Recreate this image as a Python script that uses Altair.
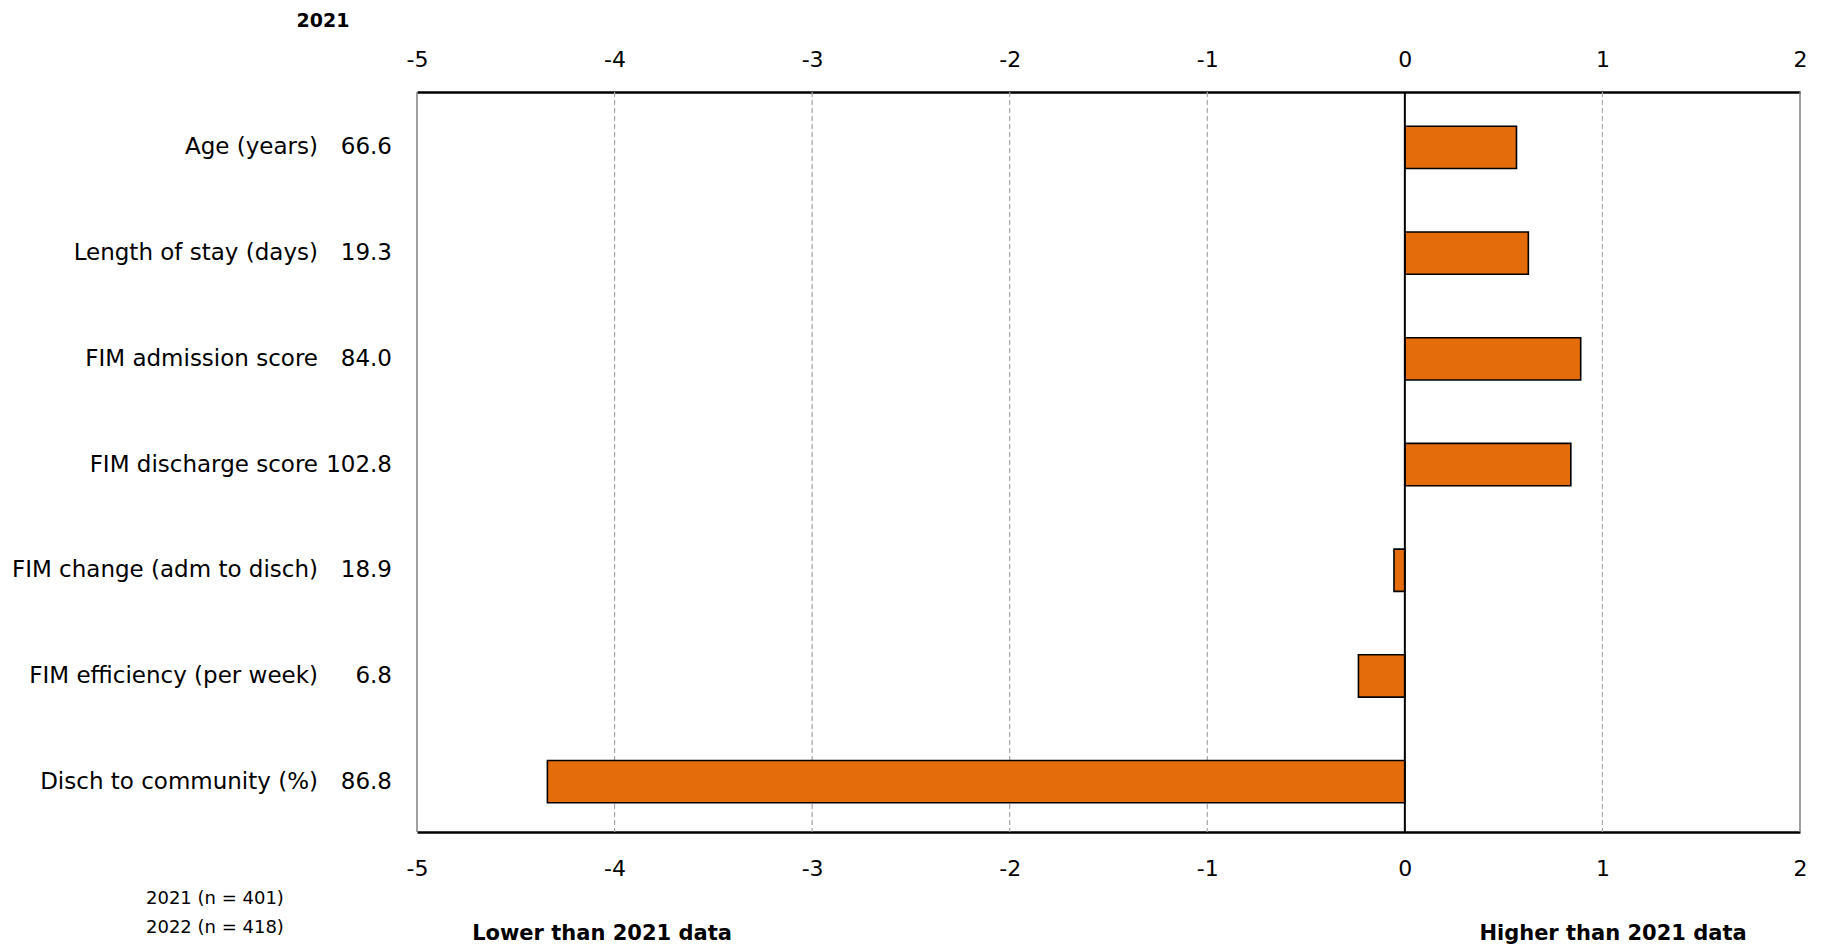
import altair as alt
import pandas as pd

categories = ["Age (years)", "Length of stay (days)", "FIM admission score",
              "FIM discharge score", "FIM change (adm to disch)",
              "FIM efficiency (per week)", "Disch to community (%)"]
values_2021 = ["66.6", "19.3", "84.0", "102.8", "18.9", "6.8", "86.8"]
differences = [0.565, 0.625, 0.89, 0.84, -0.055, -0.235, -4.34]
x_ticks = [-5, -4, -3, -2, -1, 0, 1, 2]
grid_values = [-4, -3, -2, -1, 1]
border_values = [-5, 2]
zero_values = [0]
header_text = ["2021"]
footnote_1 = ["2021 (n = 401)"]
footnote_2 = ["2022 (n = 418)"]
lower_text = ["Lower than 2021 data"]
higher_text = ["Higher than 2021 data"]

FONT = "DejaVu Sans"
FS = 23

df = pd.DataFrame({"category": categories, "value2021": values_2021, "diff": differences})

xscale = alt.Scale(domain=[-5, 2], nice=False, zero=False)
yenc = alt.Y("category:N", sort=categories, axis=None,
             scale=alt.Scale(paddingInner=0.6, paddingOuter=0.3, align=0.54))

axis_common = dict(values=x_ticks, labelFont=FONT, labelFontSize=22, labelColor="black",
                   domainColor="black", domainWidth=2.5, ticks=False, grid=False,
                   labelFlush=False, labelExpr="'' + datum.value", title=None)

grid = alt.Chart(pd.DataFrame({"v": grid_values})).mark_rule(
    color="#a6a6a6", strokeDash=[5, 3], strokeWidth=1.2
).encode(x=alt.X("v:Q", scale=xscale,
                 axis=alt.Axis(orient="top", labelPadding=21, **axis_common)))

borders = alt.Chart(pd.DataFrame({"v": border_values})).mark_rule(
    color="#7f7f7f", strokeWidth=1.5
).encode(x=alt.X("v:Q", scale=xscale, axis=None))

bars = alt.Chart(df).mark_bar(color="#E46C0A", stroke="black", strokeWidth=1.6).encode(
    x=alt.X("diff:Q", scale=xscale,
            axis=alt.Axis(orient="bottom", labelPadding=26, **axis_common)),
    x2=alt.datum(0),
    y=yenc,
)

zero = alt.Chart(pd.DataFrame({"v": zero_values})).mark_rule(
    color="black", strokeWidth=2
).encode(x=alt.X("v:Q", scale=xscale, axis=None))

cat_labels = alt.Chart(df).mark_text(
    align="right", baseline="middle", font=FONT, fontSize=FS, color="black"
).encode(y=yenc, x=alt.value(-99), text="category:N")

val_labels = alt.Chart(df).mark_text(
    align="right", baseline="middle", font=FONT, fontSize=FS, color="black"
).encode(y=yenc, x=alt.value(-25), text="value2021:N")


def note(texts, x, y, size, bold=False, align="center"):
    return alt.Chart(pd.DataFrame({"t": texts})).mark_text(
        align=align, baseline="middle", font=FONT, fontSize=size,
        fontWeight="bold" if bold else "normal", color="black"
    ).encode(text="t:N", x=alt.value(x), y=alt.value(y))


header = note(header_text, -94, -71, 19, bold=True)
foot1 = note(footnote_1, -271, 807, 18, align="left")
foot2 = note(footnote_2, -271, 836, 18, align="left")
lower = note(lower_text, 185, 842, 21, bold=True)
higher = note(higher_text, 1196, 842, 21, bold=True)

chart = alt.layer(
    grid, borders, bars, zero, cat_labels, val_labels, header, foot1, foot2, lower, higher
).resolve_axis(x="independent").properties(
    width=1383, height=740,
    autosize=alt.AutoSizeParams(type="none"),
    padding={"left": 409, "top": 84, "right": 15, "bottom": 122},
).configure_view(stroke=None)

chart.save("out.html", embed_options={"renderer": "svg", "actions": False})
